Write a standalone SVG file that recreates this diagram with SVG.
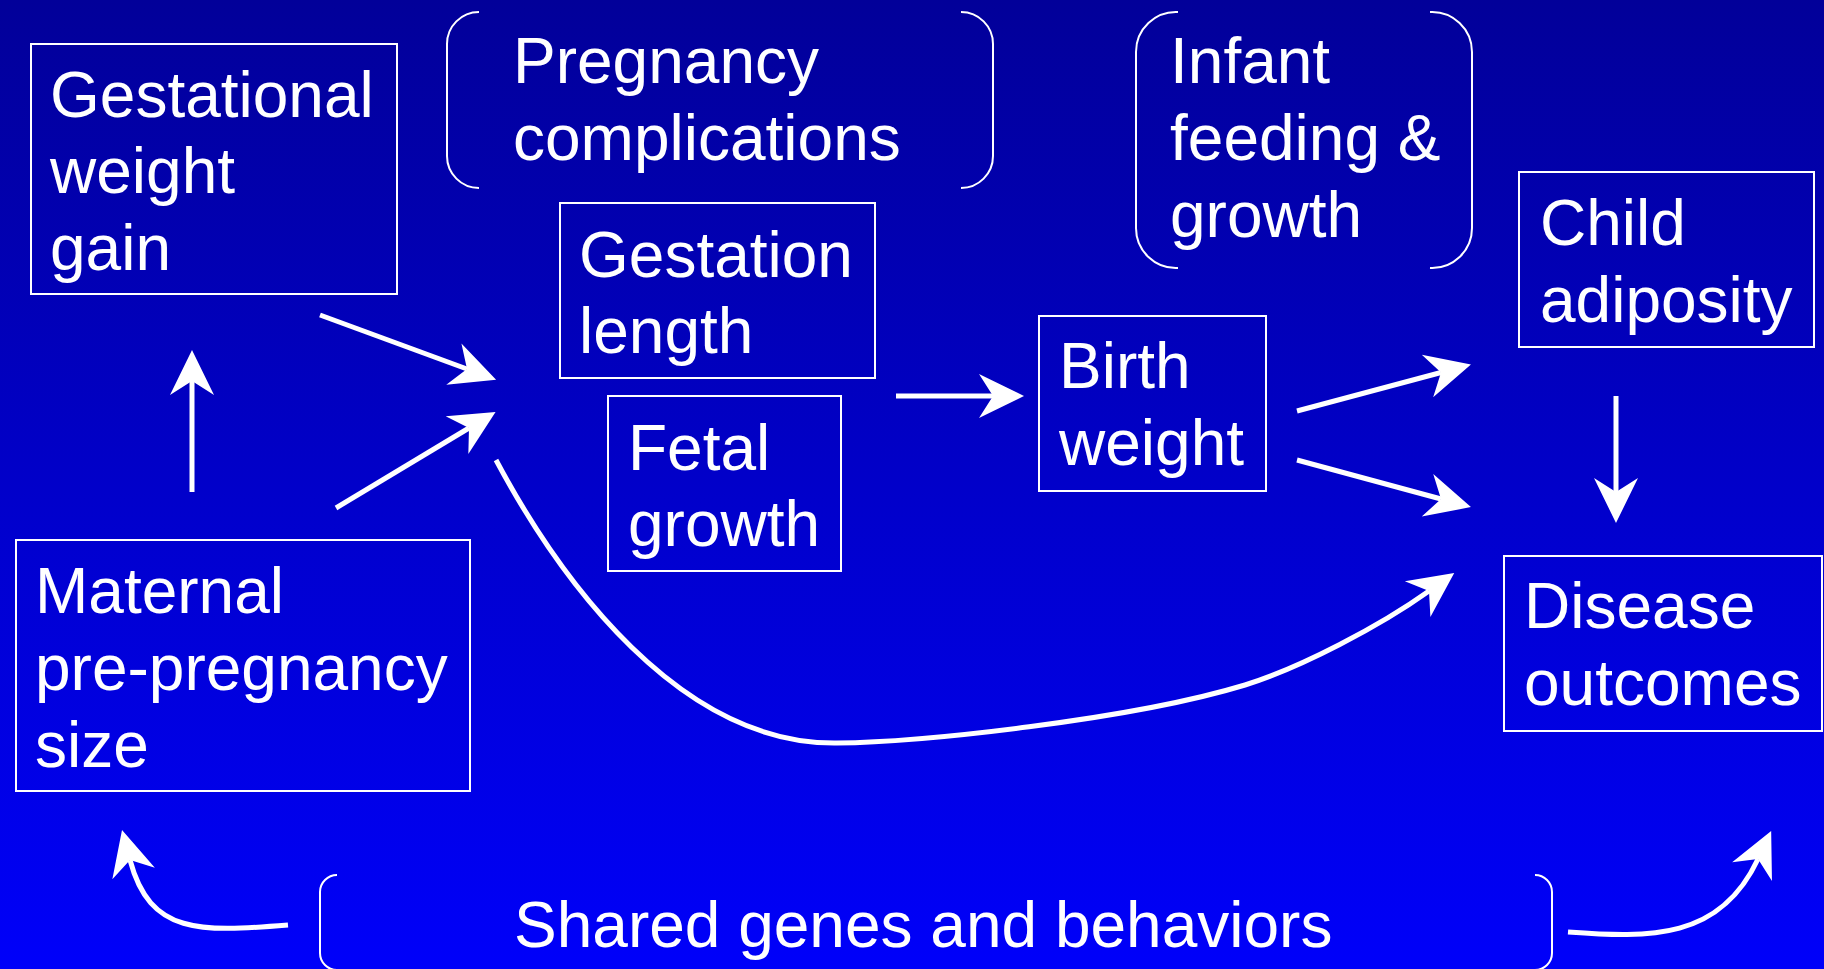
<svg xmlns="http://www.w3.org/2000/svg" width="1824" height="969" viewBox="0 0 1824 969">
<defs>
<linearGradient id="bg" x1="0" y1="0" x2="0" y2="1">
<stop offset="0" stop-color="#020099"/>
<stop offset="1" stop-color="#0000FA"/>
</linearGradient>
<marker id="ah" viewBox="-20 -25 60 50" markerWidth="60" markerHeight="50" refX="0" refY="0" orient="auto" markerUnits="userSpaceOnUse" overflow="visible">
<path d="M31,0 L-14,-22 L0,0 L-14,22 Z" fill="#fff"/>
</marker>
</defs>
<style>
.box{fill:none;stroke:#fff;stroke-width:2}
.br{fill:none;stroke:#fff;stroke-width:2}
.t{font-family:"Liberation Sans",Arial,Helvetica,sans-serif;font-size:64px;fill:#fff}
.c{fill:none;stroke:#fff;stroke-width:5;marker-end:url(#ah)}
</style>
<rect x="0" y="0" width="1824" height="969" fill="url(#bg)"/>

<g id="gestational-weight-gain">
<rect class="box" x="31" y="44" width="366" height="250"/>
<text class="t" x="50" y="117">Gestational</text>
<text class="t" x="50" y="193">weight</text>
<text class="t" x="50" y="270">gain</text>
</g>

<g id="pregnancy-complications">
<path class="br" d="M479,12 A32,32 0 0 0 447,44 L447,156 A32,32 0 0 0 479,188"/>
<path class="br" d="M961,12 A32,32 0 0 1 993,44 L993,156 A32,32 0 0 1 961,188"/>
<text class="t" x="513" y="83">Pregnancy</text>
<text class="t" x="513" y="160">complications</text>
</g>

<g id="gestation-length">
<rect class="box" x="560" y="203" width="315" height="175"/>
<text class="t" x="579" y="277">Gestation</text>
<text class="t" x="579" y="353">length</text>
</g>

<g id="fetal-growth">
<rect class="box" x="608" y="396" width="233" height="175"/>
<text class="t" x="628" y="470">Fetal</text>
<text class="t" x="628" y="546">growth</text>
</g>

<g id="birth-weight">
<rect class="box" x="1039" y="316" width="227" height="175"/>
<text class="t" x="1059" y="388">Birth</text>
<text class="t" x="1059" y="465">weight</text>
</g>

<g id="infant-feeding">
<path class="br" d="M1178,12 A40,40 0 0 0 1136,52 L1136,228 A40,40 0 0 0 1178,268"/>
<path class="br" d="M1430,12 A40,40 0 0 1 1472,52 L1472,228 A40,40 0 0 1 1430,268"/>
<text class="t" x="1170" y="83">Infant</text>
<text class="t" x="1170" y="160">feeding &amp;</text>
<text class="t" x="1170" y="237">growth</text>
</g>

<g id="child-adiposity">
<rect class="box" x="1519" y="172" width="295" height="175"/>
<text class="t" x="1540" y="245">Child</text>
<text class="t" x="1540" y="322">adiposity</text>
</g>

<g id="disease-outcomes">
<rect class="box" x="1504" y="556" width="318" height="175"/>
<text class="t" x="1524" y="628">Disease</text>
<text class="t" x="1524" y="705">outcomes</text>
</g>

<g id="maternal-size">
<rect class="box" x="16" y="540" width="454" height="251"/>
<text class="t" x="35" y="613">Maternal</text>
<text class="t" x="35" y="690">pre-pregnancy</text>
<text class="t" x="35" y="767">size</text>
</g>

<g id="shared-genes">
<path class="br" d="M337,875 A17,17 0 0 0 320,892 L320,953 A17,17 0 0 0 337,970"/>
<path class="br" d="M1535,875 A17,17 0 0 1 1552,892 L1552,953 A17,17 0 0 1 1535,970"/>
<text class="t" x="514" y="947">Shared genes and behaviors</text>
</g>

<g id="connectors">
<path class="c" d="M320,315 L467,369"/>
<path class="c" d="M336,508 L469,428"/>
<path class="c" d="M896,396 L993,396"/>
<path class="c" d="M1297,411 L1441,372.5"/>
<path class="c" d="M1297,460 L1441,499"/>
<path class="c" d="M1616,396 L1616,492"/>
<path class="c" d="M192,492 L192,381"/>
<path class="c" d="M496,460 C560,580 680,745 837,743 C920,742 1130,720 1245,685 C1300,668 1380,626 1429,591"/>
<path class="c" d="M288,925 C200,932 150,935 130,860"/>
<path class="c" d="M1568,932 C1650,938 1720,940 1758,859"/>
</g>
</svg>
